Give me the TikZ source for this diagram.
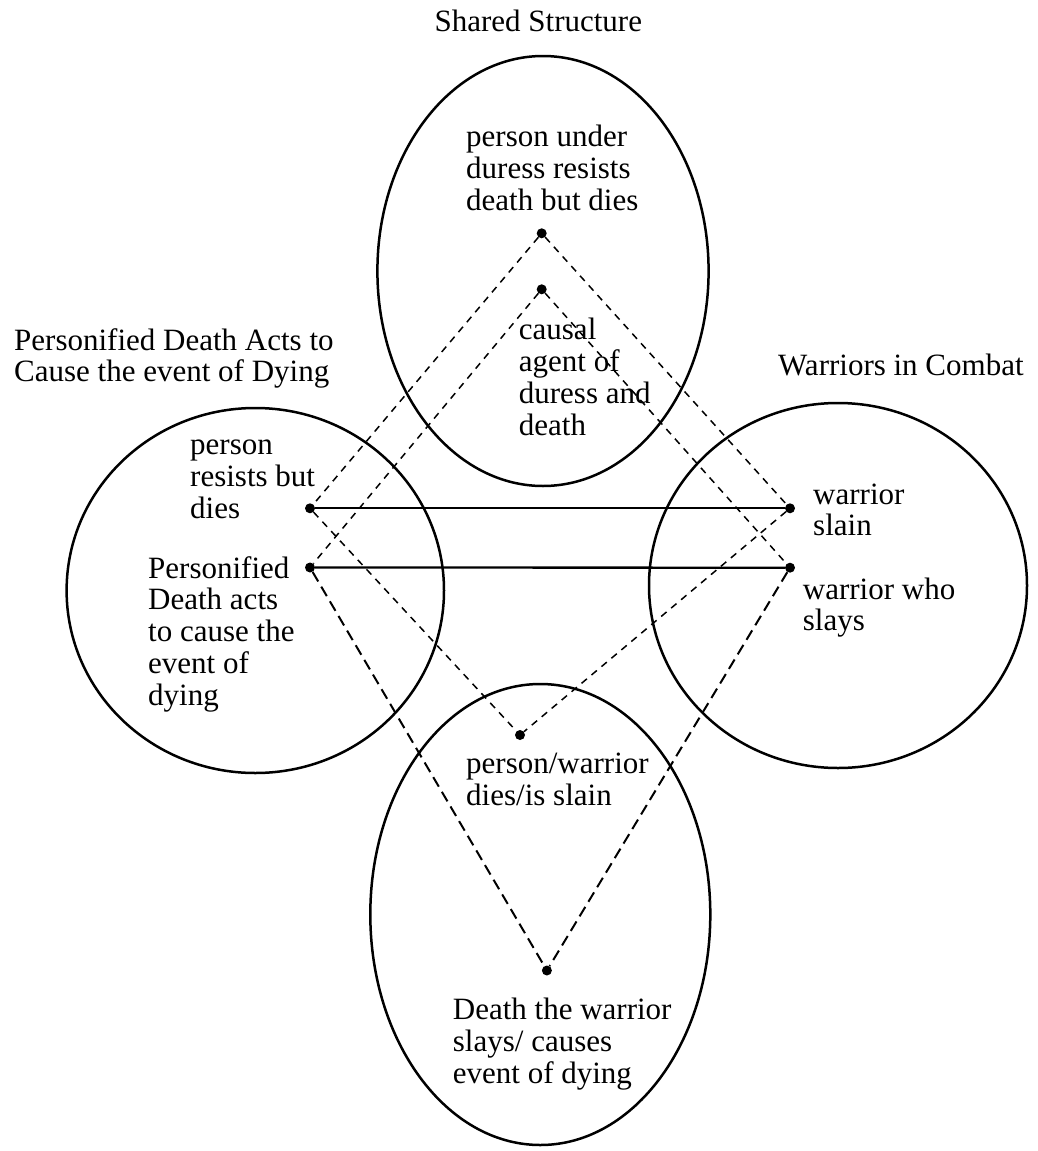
\documentclass[tikz,border=0pt]{standalone}
\usepackage{fontspec}
\setmainfont{Liberation Serif}
\usetikzlibrary{positioning}

\begin{document}
\begin{tikzpicture}[x=1pt, y=-1pt,
  every node/.style={font=\fontsize{31}{31.7}\selectfont, inner sep=0pt},
  txt/.style={align=left, anchor=base west},
  dot/.style={circle, fill=black, minimum size=10pt, inner sep=0pt},
  space/.style={line width=2.5pt},
  tie/.style={line width=2.3pt},
  map/.style={line width=1.5pt, dash pattern=on 7pt off 6pt},
  mapbold/.style={line width=2pt, dash pattern=on 11pt off 6pt}]
  \useasboundingbox (0,0) rectangle (1037,1151);

  % the four mental spaces
  \draw[space] (543,271) ellipse [x radius=165.6pt, y radius=215pt];
  \draw[space] (255.3,590.5) ellipse [x radius=188.7pt, y radius=182.5pt];
  \draw[space] (838,585.5) ellipse [x radius=189pt, y radius=182.5pt];
  \draw[space] (540.3,914.5) ellipse [x radius=170pt, y radius=230.5pt];

  % titles (base = last line)
  \node[anchor=base] (sharedT) at (538.3,31.7) {Shared Structure};
  \node[txt] (deathT) at (14,381.7) {Personified Death Acts to\\Cause the event of Dying};
  \node[txt] (combatT) at (778,375) {Warriors in Combat};

  % elements
  \node[dot] (sharedA) at (541.7,233.3) {};
  \node[dot] (sharedB) at (541.7,289.3) {};
  \node[dot] (deathA) at (310,508.3) {};
  \node[dot] (deathB) at (310,567.5) {};
  \node[dot] (combatA) at (790,508.3) {};
  \node[dot] (combatB) at (790,567.7) {};
  \node[dot] (blendA) at (520,735) {};
  \node[dot] (blendB) at (546.9,970.5) {};

  % element texts
  \node[txt] (sharedAT) at (466,210) {person under\\duress resists\\death but dies};
  \node[txt] (sharedBT) at (518.7,435) {causal\\agent of\\duress and\\death};
  \node[txt] (deathAT) at (190,518.3) {person\\resists but\\dies};
  \node[txt] (deathBT) at (148,705) {Personified\\Death acts\\to cause the\\event of\\dying};
  \node[txt] (combatAT) at (813,535.7) {warrior\\slain};
  \node[txt] (combatBT) at (802.7,630.7) {warrior who\\slays};
  \node[txt] (blendAT) at (466,805) {person/warrior\\dies/is slain};
  \node[txt] (blendBT) at (452.7,1083.3) {Death the warrior\\slays/ causes\\event of dying};

  % counterpart links
  \draw[tie] (deathA) -- (combatA);
  \draw[tie] (deathB) -- (combatB);
  \draw[map] (sharedA) -- (deathA);
  \draw[map] (sharedA) -- (combatA);
  \draw[map] (sharedB) -- (deathB);
  \draw[map] (sharedB) -- (combatB);
  \draw[map] (deathA) -- (blendA);
  \draw[map] (combatA) -- (blendA);
  \draw[mapbold] (deathB) -- (blendB);
  \draw[mapbold] (combatB) -- (blendB);
\end{tikzpicture}
\end{document}
